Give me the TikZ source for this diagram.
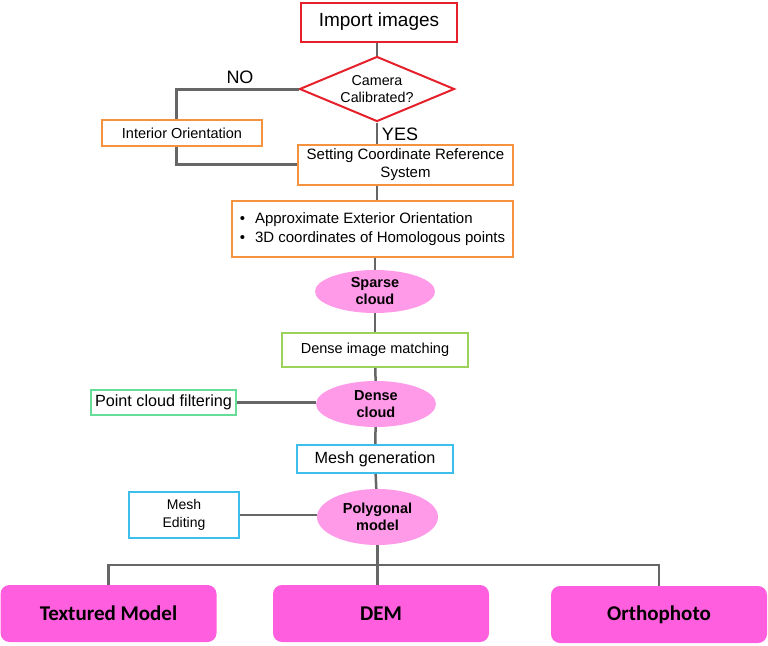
\documentclass[tikz,border=0pt]{standalone}
\usepackage{fontspec}
\setmainfont{Liberation Sans}
\newfontfamily\calibri{Carlito}
\usetikzlibrary{shapes.geometric}

\definecolor{vermelho}{HTML}{E5202A}
\definecolor{laranja}{HTML}{F59240}
\definecolor{verdeclaro}{HTML}{9BD25A}
\definecolor{verdementa}{HTML}{66DD99}
\definecolor{ciano}{HTML}{3CBFEA}
\definecolor{rosa}{HTML}{FF9AE8}
\definecolor{magenta}{HTML}{FF5EDE}
\definecolor{cinza}{HTML}{666666}

\tikzset{
    caixa/.style={draw, line width=2pt, fill=white, inner sep=0pt, align=center,
        font=\fontsize{14.5}{17}\selectfont},
    nuvem/.style={ellipse, fill=rosa, inner sep=0pt, align=center,
        font=\fontsize{14.5}{17}\selectfont\bfseries},
    produto/.style={rounded corners=9pt, fill=magenta, inner sep=0pt,
        minimum width=216pt, minimum height=57pt,
        font=\fontsize{21}{24}\selectfont\calibri\bfseries},
    ligacao/.style={draw=cinza, line width=2.5pt},
    rotulo/.style={inner sep=0pt, font=\fontsize{18}{20}\selectfont}
}

\begin{document}
\begin{tikzpicture}[x=1pt, y=-1pt]

        \useasboundingbox (0,0) rectangle (768,645);

        % caixas do topo
        \node[caixa, draw=vermelho, minimum width=156pt, minimum height=39pt,
            font=\fontsize{19}{22}\selectfont] (imp) at (379,22) {Import images};
        \node[diamond, draw=vermelho, line width=2pt, fill=white, inner sep=0pt,
            shape aspect=2.4, minimum width=155pt, minimum height=65pt, align=center,
            font=\fontsize{14.3}{17}\selectfont] (cam) at (377,89) {Camera\\Calibrated?};
        \node[caixa, draw=laranja, minimum width=160pt, minimum height=26pt] (io) at (182,133) {Interior Orientation};
        \node[caixa, draw=laranja, minimum width=215pt, minimum height=40pt,
            font=\fontsize{15}{18}\selectfont] (scrs) at (405.5,165) {Setting Coordinate Reference\\System};
        \node[caixa, draw=laranja, minimum width=281pt, minimum height=56pt, align=left,
            font=\fontsize{15}{19}\selectfont] (aeo) at (372.5,229)
            {\textbullet\hspace{10pt}Approximate Exterior Orientation\\
             \textbullet\hspace{10pt}3D coordinates of Homologous points};

        \node[rotulo] (no) at (240,77) {NO};
        \node[rotulo] (yes) at (400,134) {YES};

        % nuvens e processamento
        \node[nuvem, minimum width=120pt, minimum height=43pt] (sparse) at (375,291.5) {Sparse\\cloud};
        \node[caixa, draw=verdeclaro, minimum width=186pt, minimum height=34pt] (dim) at (375,350) {Dense image matching};
        \node[nuvem, minimum width=120pt, minimum height=46pt] (dense) at (376,404) {Dense\\cloud};
        \node[caixa, draw=verdementa, minimum width=145pt, minimum height=25pt,
            font=\fontsize{16.2}{19}\selectfont] (pcf) at (163.5,402.5) {Point cloud filtering};
        \node[caixa, draw=ciano, minimum width=156pt, minimum height=28pt,
            font=\fontsize{16.2}{19}\selectfont] (mg) at (375,459) {Mesh generation};
        \node[nuvem, minimum width=121pt, minimum height=56pt] (poly) at (377.5,517) {Polygonal\\model};
        \node[caixa, draw=ciano, minimum width=110pt, minimum height=46pt,
            font=\fontsize{14}{18}\selectfont] (me) at (184,515) {Mesh\\Editing};

        % produtos finais
        \node[produto] (tm) at (108.5,613.5) {Textured Model};
        \node[produto] (dem) at (381,613.5) {DEM};
        \node[produto] (ortho) at (659,614.5) {Orthophoto};

        % ligacoes
        \draw[ligacao] (imp.south -| cam.north) -- (cam.north);
        \draw[ligacao, line width=3pt] (cam.west) -| ([xshift=-6pt]io.north);
        \draw[ligacao, line width=3pt] ([xshift=-6pt]io.south) |- ([yshift=1pt]scrs.west);
        \draw[ligacao] (cam.south) -- (cam.south |- scrs.north);
        \draw[ligacao] (scrs.south -| cam.south) -- (aeo.north -| cam.south);
        \draw[ligacao] (aeo.south -| sparse.north) -- (sparse.north);
        \draw[ligacao] (sparse) -- (dim);
        \draw[ligacao] (dim) -- (dense);
        \draw[ligacao] (dense) -- (mg);
        \draw[ligacao] (mg) -- (poly);
        \draw[ligacao] (pcf.east) -- (pcf.east -| dense.west);
        \draw[ligacao] (me.east) -- (me.east -| poly.west);

        % distribuicao para os produtos
        \draw[ligacao] (poly.south) -- (poly.south |- dem.north);
        \draw[ligacao] (tm.north) -- ++(0,-20) -| (ortho.north);
    \end{tikzpicture}
\end{document}
